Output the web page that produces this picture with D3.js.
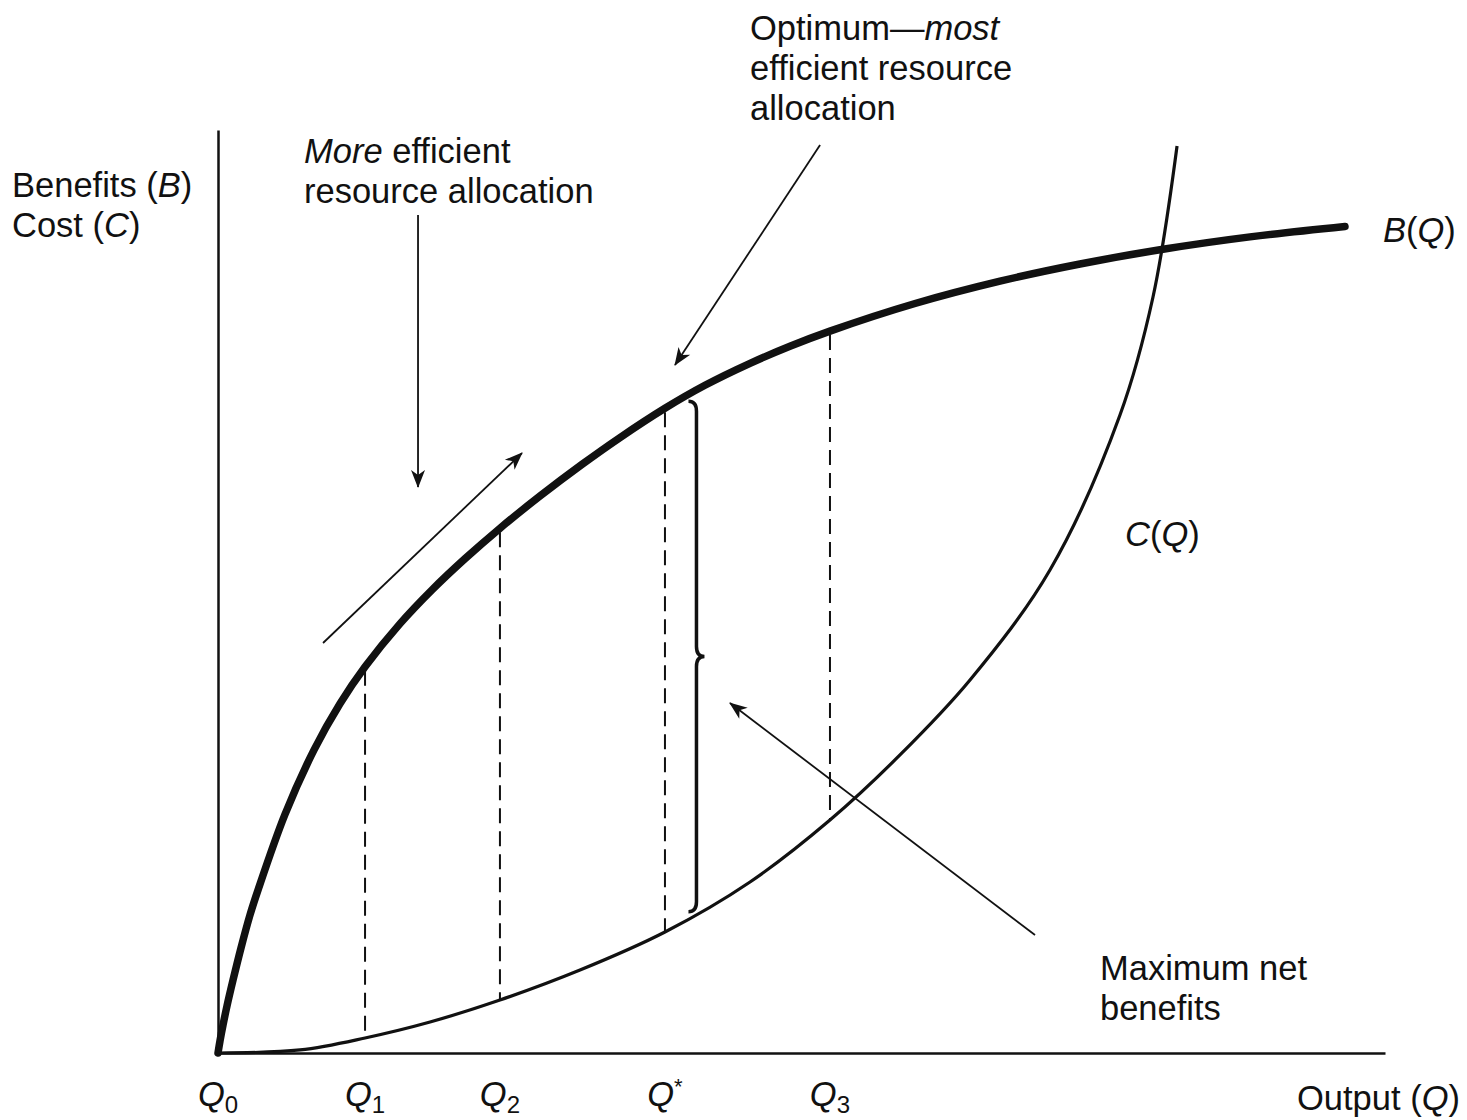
<!DOCTYPE html>
<html>
<head>
<meta charset="utf-8">
<script src="https://cdn.jsdelivr.net/npm/d3@7"></script>
<style>
  html, body { margin: 0; padding: 0; background: #fff; }
  svg text { font-family: "Liberation Sans", Arial, sans-serif; fill: #111; }
</style>
</head>
<body>
<svg id="chart" width="1467" height="1120"></svg>
<script>
// ---- Data (abstract units: output 0-100, benefit/cost 0-100) ----
const benefitCurve = [
  [0, 0], [0.17, 1.30], [0.43, 3.03], [0.77, 5.09], [1.29, 7.91], [1.97, 11.38],
  [2.74, 14.95], [3.43, 17.66], [5.74, 25.85], [8.23, 32.84], [10.45, 37.84],
  [12.6, 41.84], [15.6, 46.52], [18.34, 50.18], [21.17, 53.56], [24.16, 56.85],
  [27.59, 60.34], [31.19, 63.77], [34.45, 66.68], [38.3, 69.85], [41.73, 72.34],
  [45.59, 74.72], [49.01, 76.57], [52.44, 78.21], [59.73, 81.2], [67.01, 83.62],
  [73.86, 85.48], [80.98, 87.08], [88.43, 88.42], [96.57, 89.55]
];
const costCurve = [
  [0, 0], [7.03, 0.33], [12.6, 1.63], [18.17, 3.36], [24.16, 5.74], [31.02, 8.99],
  [38.3, 13.11], [45.59, 18.53], [52.44, 25.24], [58.44, 32.29], [64.44, 40.41],
  [71.29, 52.33], [77.29, 69.12], [80.12, 81.91], [82.18, 98.27]
];
const qLabels = ["Q0", "Q1", "Q2", "Q*", "Q3"];
const qValues = [0, 12.6, 24.16, 38.3, 52.44];
const qBenefit = [0, 41.84, 56.85, 69.85, 78.21];
const qCost = [0, 1.63, 5.74, 13.11, 25.24];
// net-benefit brace just right of Q*
const braceX = 41.0;
const braceTop = 70.6;
const braceBottom = 15.3;
// annotation arrows [x1,y1,x2,y2] in data units
const arrows = [
  [17.14, 90.79, 17.14, 61.32],
  [9.0, 44.42, 26.05, 65.0],
  [51.59, 98.37, 39.16, 74.54],
  [70.01, 12.78, 43.87, 37.92]
];

// ---- Layout ----
const svg = d3.select("#chart");
const x = d3.scaleLinear().domain([0, 100]).range([218, 1385]);
const y = d3.scaleLinear().domain([0, 100]).range([1053, 130]);

const defs = svg.append("defs");
defs.append("marker")
  .attr("id", "arr")
  .attr("viewBox", "-20 -10 22 20")
  .attr("refX", 0).attr("refY", 0)
  .attr("markerWidth", 22).attr("markerHeight", 20)
  .attr("markerUnits", "userSpaceOnUse")
  .attr("orient", "auto")
  .append("path")
  .attr("d", "M1,0 L-17,-7 L-12,0 L-17,7 Z")
  .attr("fill", "#111");

// Axes
const xAxis = d3.axisBottom(x).tickValues([]).tickSize(0).tickSizeOuter(0);
const yAxis = d3.axisLeft(y).tickValues([]).tickSize(0).tickSizeOuter(0);
svg.append("g").attr("transform", `translate(0,${y(0)})`).call(xAxis)
  .select(".domain").attr("stroke", "#111").attr("stroke-width", 2.5);
svg.append("g").attr("transform", `translate(${x(0)},0)`).call(yAxis)
  .select(".domain").attr("stroke", "#111").attr("stroke-width", 2.5);

const line = d3.line().x(d => x(d[0])).y(d => y(d[1])).curve(d3.curveCatmullRom.alpha(0.5));

// Dashed verticals
svg.append("g").selectAll("line").data(qValues.slice(1).map((q, i) => ({q, b: qBenefit[i + 1], c: qCost[i + 1]})))
  .join("line")
  .attr("x1", d => x(d.q)).attr("x2", d => x(d.q))
  .attr("y1", d => y(d.b) + 4).attr("y2", d => y(d.c))
  .attr("stroke", "#111").attr("stroke-width", 2)
  .attr("stroke-dasharray", "15,8");

// Curves
svg.append("path").datum(costCurve).attr("d", line)
  .attr("fill", "none").attr("stroke", "#111").attr("stroke-width", 3.2);
svg.append("path").datum(benefitCurve).attr("d", line)
  .attr("fill", "none").attr("stroke", "#111").attr("stroke-width", 7.5)
  .attr("stroke-linecap", "round");

// Brace
{
  const bx = x(braceX), t = y(braceTop), b = y(braceBottom), m = (t + b) / 2;
  const p = d3.path();
  p.moveTo(bx - 8, t);
  p.quadraticCurveTo(bx, t, bx, t + 10);
  p.lineTo(bx, m - 10);
  p.quadraticCurveTo(bx, m, bx + 8, m);
  p.quadraticCurveTo(bx, m, bx, m + 10);
  p.lineTo(bx, b - 10);
  p.quadraticCurveTo(bx, b, bx - 8, b);
  svg.append("path").attr("d", p.toString())
    .attr("fill", "none").attr("stroke", "#111").attr("stroke-width", 3.5);
}

// Arrows
svg.append("g").selectAll("line").data(arrows).join("line")
  .attr("x1", d => x(d[0])).attr("y1", d => y(d[1]))
  .attr("x2", d => x(d[2])).attr("y2", d => y(d[3]))
  .attr("stroke", "#111").attr("stroke-width", 1.8)
  .attr("marker-end", "url(#arr)");

// ---- Text ----
const FS = 34.5;
function multiline(xp, yp, lines, lh) {
  const t = svg.append("text").attr("x", xp).attr("y", yp).attr("font-size", FS);
  lines.forEach((ln, i) => {
    const row = t.append("tspan").attr("x", xp).attr("dy", i === 0 ? 0 : lh);
    ln.forEach(seg => {
      row.append("tspan").text(seg[0]).attr("font-style", seg[1] ? "italic" : null);
    });
  });
  return t;
}
multiline(12, 197, [[["Benefits ("], ["B", 1], [")"]], [["Cost ("], ["C", 1], [")"]]], 40);
multiline(304, 163, [[["More", 1], [" efficient"]], [["resource allocation"]]], 40);
multiline(750, 40, [[["Optimum\u2014"], ["most", 1]], [["efficient resource"]], [["allocation"]]], 40);
multiline(1383, 242, [[["B", 1], ["("], ["Q", 1], [")"]]], 40);
multiline(1125, 546, [[["C", 1], ["("], ["Q", 1], [")"]]], 40);
multiline(1100, 980, [[["Maximum net"]], [["benefits"]]], 40);
multiline(1297, 1110, [[["Output ("], ["Q", 1], [")"]]], 40);

// Q tick labels
const qg = svg.append("g");
qLabels.forEach((lab, i) => {
  const t = qg.append("text").attr("x", x(qValues[i])).attr("y", 1106)
    .attr("text-anchor", "middle").attr("font-size", FS);
  t.append("tspan").text("Q").attr("font-style", "italic");
  const sub = lab.slice(1);
  if (sub === "*") {
    t.append("tspan").text("*").attr("font-size", 22).attr("dy", -12);
  } else {
    t.append("tspan").text(sub).attr("font-size", 24).attr("dy", 7);
  }
});
</script>
</body>
</html>
